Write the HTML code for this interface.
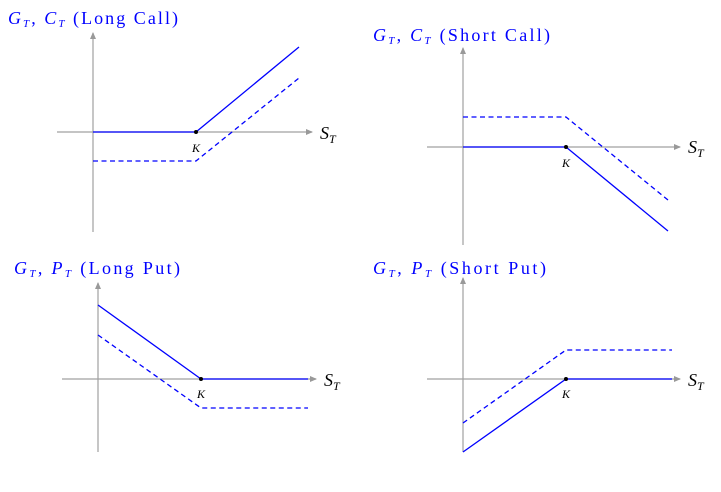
<!DOCTYPE html>
<html><head><meta charset="utf-8"><style>
body{margin:0;background:#fff;width:721px;height:492px;overflow:hidden}
svg{display:block}
text{font-family:"Liberation Serif",serif}
</style></head><body>
<svg width="721" height="492" viewBox="0 0 721 492" xmlns="http://www.w3.org/2000/svg">
<defs>
<marker id="a" markerWidth="8" markerHeight="8" refX="6" refY="4" orient="auto" markerUnits="userSpaceOnUse">
<path d="M0,1 L7,4 L0,7 Z" fill="#999"/></marker>
</defs>
<g stroke="#a0a0a0" stroke-width="1.2" fill="none" marker-end="url(#a)">
<line x1="93" y1="232" x2="93" y2="33"/><line x1="57" y1="132" x2="312" y2="132"/>
<line x1="463" y1="245" x2="463" y2="48"/><line x1="427" y1="147" x2="680" y2="147"/>
<line x1="98" y1="452" x2="98" y2="283"/><line x1="62" y1="379" x2="316" y2="379"/>
<line x1="463" y1="452" x2="463" y2="278"/><line x1="427" y1="379" x2="680" y2="379"/>
</g>
<g stroke="#0000ff" stroke-width="1.3" fill="none">
<polyline points="93,132 196,132 299,47"/>
<polyline points="463,147 566,147 668,231"/>
<polyline points="98,305 201,379 308,379"/>
<polyline points="463,452 566,379 672,379"/>
<g stroke-dasharray="5,3.5">
<polyline points="93,161 196,161 299,78"/>
<polyline points="463,117 566,117 668,200"/>
<polyline points="98,335 201,408 308,408"/>
<polyline points="463,423 566,350 672,350"/>
</g></g>
<g fill="#000"><circle cx="196" cy="132" r="2"/><circle cx="566" cy="147" r="2"/><circle cx="201" cy="379" r="2"/><circle cx="566" cy="379" r="2"/></g>
<g font-size="12" font-style="italic" fill="#000" text-anchor="middle">
<text x="196" y="152">K</text><text x="566" y="167">K</text><text x="201" y="398">K</text><text x="566" y="398">K</text>
</g>
<g font-size="18" font-style="italic" fill="#000">
<text x="320" y="139">S<tspan font-size="12" dy="4">T</tspan></text>
<text x="688" y="153">S<tspan font-size="12" dy="4">T</tspan></text>
<text x="324" y="386">S<tspan font-size="12" dy="4">T</tspan></text>
<text x="688" y="386">S<tspan font-size="12" dy="4">T</tspan></text>
</g>
<g font-size="18" fill="#0000ff">
<text x="8" y="24" textLength="170" lengthAdjust="spacing"><tspan font-style="italic">G</tspan><tspan font-size="11" font-style="italic" dy="3">T</tspan><tspan dy="-3">, </tspan><tspan font-style="italic">C</tspan><tspan font-size="11" font-style="italic" dy="3">T</tspan><tspan dy="-3"> (Long Call)</tspan></text>
<text x="373" y="41" textLength="177" lengthAdjust="spacing"><tspan font-style="italic">G</tspan><tspan font-size="11" font-style="italic" dy="3">T</tspan><tspan dy="-3">, </tspan><tspan font-style="italic">C</tspan><tspan font-size="11" font-style="italic" dy="3">T</tspan><tspan dy="-3"> (Short Call)</tspan></text>
<text x="14" y="274" textLength="166" lengthAdjust="spacing"><tspan font-style="italic">G</tspan><tspan font-size="11" font-style="italic" dy="3">T</tspan><tspan dy="-3">, </tspan><tspan font-style="italic">P</tspan><tspan font-size="11" font-style="italic" dy="3">T</tspan><tspan dy="-3"> (Long Put)</tspan></text>
<text x="373" y="274" textLength="173" lengthAdjust="spacing"><tspan font-style="italic">G</tspan><tspan font-size="11" font-style="italic" dy="3">T</tspan><tspan dy="-3">, </tspan><tspan font-style="italic">P</tspan><tspan font-size="11" font-style="italic" dy="3">T</tspan><tspan dy="-3"> (Short Put)</tspan></text>
</g>
</svg>
</body></html>
